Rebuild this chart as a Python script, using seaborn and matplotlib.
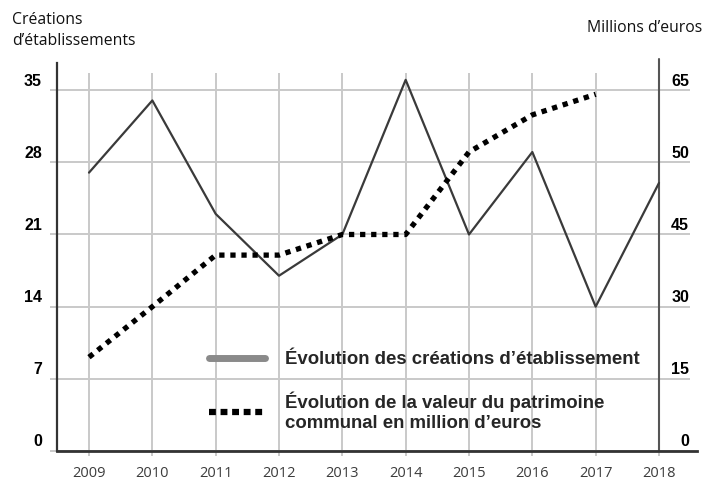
import matplotlib
matplotlib.use("Agg")
import matplotlib.pyplot as plt
from matplotlib.lines import Line2D
import pandas as pd
import seaborn as sns

# ── Data ──────────────────────────────────────────────────────────────────────
years = [2009, 2010, 2011, 2012, 2013, 2014, 2015, 2016, 2017, 2018]
creations = [27, 34, 23, 17, 21, 36, 21, 29, 14, 26]

# patrimoine drawn on the shared vertical scale (right labels are not linear)
patrimoine_years = [2009, 2010, 2011, 2012, 2013, 2014, 2015, 2016, 2017]
patrimoine = [9.1, 14, 19, 19, 21, 21, 29, 32.6, 34.6]

left_ticks = [0, 7, 14, 21, 28, 35]
right_labels = ["0", "15", "30", "45", "50", "65"]

label_creations = "Évolution des créations d’établissement"
label_patrimoine = "Évolution de la valeur du patrimoine\ncommunal en million d’euros"

# ── Style ─────────────────────────────────────────────────────────────────────
sns.set_style("white")
plt.rcParams["font.family"] = ["Liberation Sans", "DejaVu Sans"]

GRID = "#c9c9c9"
DARK = "#333333"
TXT = "#000000"

fig = plt.figure(figsize=(7.22, 4.84), dpi=100)
ax = fig.add_axes([57 / 722, 33 / 484, (697 - 57) / 722, (451 - 63) / 484])

df_c = pd.DataFrame({"year": years, "value": creations})
df_p = pd.DataFrame({"year": patrimoine_years, "value": patrimoine})

sns.lineplot(data=df_c, x="year", y="value", ax=ax, color="#3a3a3a",
             linewidth=1.6, zorder=3)
sns.lineplot(data=df_p, x="year", y="value", ax=ax, color="black",
             linewidth=3.8, linestyle=(0, (1, 1.1)), zorder=4)

x0 = 2009 - 32 / 63.33
ax.set_xlim(x0, 2018 + 38 / 63.33)
ax.set_ylim(0, 388 / 10.31)

# grid drawn by hand so it can overshoot the frame like the original
ax.hlines(left_ticks, 2009 - 39 / 63.33, 2018 + 31 / 63.33, color=GRID,
          lw=1.4, zorder=1, clip_on=False)
ax.vlines(years, -0.5, 35 + 17 / 10.31, color=GRID, lw=1.4, zorder=1,
          clip_on=False)

# frame
for side in ["top", "right"]:
    ax.spines[side].set_visible(False)
ax.spines["left"].set_color(DARK)
ax.spines["left"].set_linewidth(1.6)
ax.spines["bottom"].set_color(DARK)
ax.spines["bottom"].set_linewidth(2)
ax.plot([2018, 2018], [0, 38], color="#555555", lw=1.5, zorder=2,
        clip_on=False)

# y labels (both sides, sitting just above their grid line)
ax.set_yticks([])
for t, rl in zip(left_ticks, right_labels):
    ax.annotate(str(t), xy=(x0, t), xytext=(-15, 9), textcoords="offset pixels",
                ha="right", va="center", fontsize=11.5, weight="bold",
                family="Liberation Sans", color=TXT)
    ax.annotate(rl, xy=(2018, t), xytext=(30, 9), textcoords="offset pixels",
                ha="right", va="center", fontsize=11.5, weight="bold",
                family="Liberation Sans", color=TXT)

ax.set_xticks(years)
ax.set_xticklabels([str(y) for y in years], fontsize=10.5, family="Open Sans",
                   color="#3c3c3c")
ax.tick_params(axis="x", length=0, pad=11)
ax.set_xlabel("")
ax.set_ylabel("")

# axis titles
fig.text(12 / 722, 1 - 12 / 484, "Créations\nd’établissements", ha="left",
         va="top", fontsize=11.3, family="Open Sans", linespacing=1.45,
         color="#111111")
fig.text(587 / 722, 1 - 28 / 484, "Millions d’euros", ha="left", va="center",
         fontsize=11.3, family="Open Sans", color="#111111")

# legend
handles = [
    Line2D([], [], color="#8a8a8a", lw=5),
    Line2D([], [], color="black", lw=4.5, linestyle=(0, (1.1, 0.75))),
]
ax.legend(handles, [label_creations, label_patrimoine], loc="upper left",
          bbox_to_anchor=(200 / 722, 1 - 342 / 484),
          bbox_transform=fig.transFigure, frameon=False, borderpad=0,
          handlelength=3.0, handletextpad=1.05, labelspacing=1.25,
          prop={"family": "Liberation Sans", "size": 13.4, "weight": "bold"})

fig.savefig("out.png", dpi=100)
